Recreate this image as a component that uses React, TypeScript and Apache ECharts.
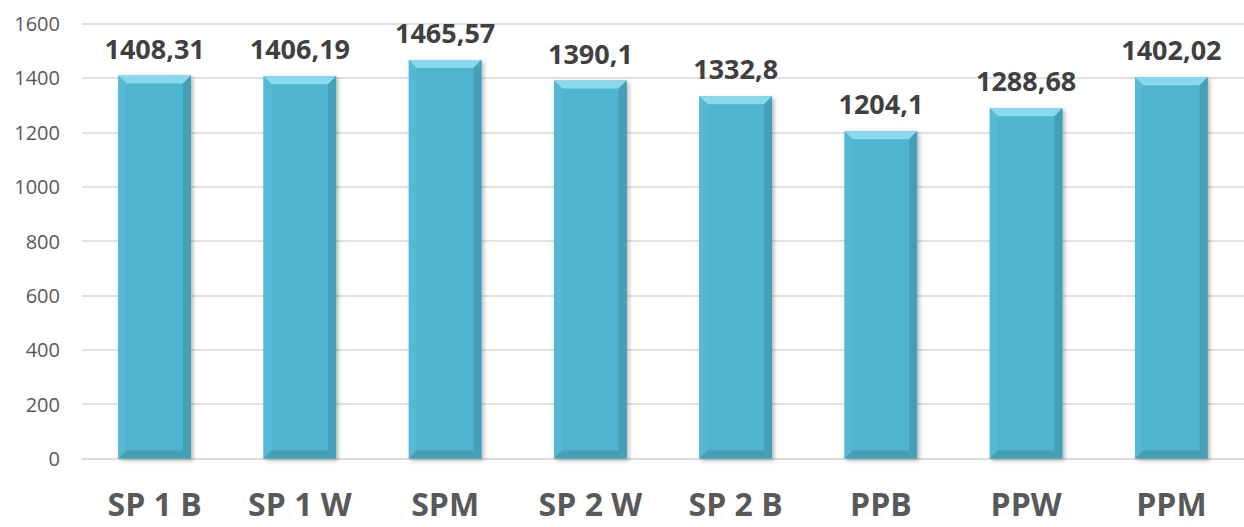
import React, { useEffect, useRef } from "react";
import * as echarts from "echarts";

const categories = ["SP 1 B", "SP 1 W", "SPM", "SP 2 W", "SP 2 B", "PPB", "PPW", "PPM"];
const values = [1408.31, 1406.19, 1465.57, 1390.1, 1332.8, 1204.1, 1288.68, 1402.02];
const labels = ["1408,31", "1406,19", "1465,57", "1390,1", "1332,8", "1204,1", "1288,68", "1402,02"];
const yTicks = [0, 200, 400, 600, 800, 1000, 1200, 1400, 1600];

const FONT = "'Open Sans', 'Noto Sans', sans-serif";

export default function App() {
  const ref = useRef<HTMLDivElement>(null);
  useEffect(() => {
    if (!ref.current) return;
    const chart = echarts.init(ref.current, undefined, { renderer: "svg" });
    const bevel = 8;
    chart.setOption({
      animation: false,
      grid: { left: 82, right: -10, top: 23.5, bottom: 68.5, containLabel: false },
      xAxis: {
        type: "category",
        data: categories,
        axisLine: { show: true, lineStyle: { color: "#d9d9d9", width: 1.5 } },
        axisTick: { show: false },
        axisLabel: {
          interval: 0,
          fontFamily: FONT,
          fontSize: 32,
          lineHeight: 32,
          fontWeight: "bold",
          color: "#595959",
          margin: 29,
        },
      },
      yAxis: {
        type: "value",
        min: yTicks[0],
        max: yTicks[yTicks.length - 1],
        interval: 200,
        axisLine: { show: false },
        axisTick: { show: false },
        splitLine: { lineStyle: { color: "#d9d9d9", width: 1.5 } },
        axisLabel: {
          fontFamily: FONT,
          fontSize: 20,
          color: "#595959",
          margin: 22,
          formatter: (v: number) => String(v),
        },
      },
      series: [
        {
          type: "bar",
          data: values,
          barWidth: "50%",
          itemStyle: {
            color: "#4fb4cf",
            shadowColor: "rgba(0,0,0,0.3)",
            shadowBlur: 4,
            shadowOffsetX: 2,
            shadowOffsetY: 2,
          },
          label: {
            show: true,
            position: "top",
            distance: 14,
            fontFamily: FONT,
            fontSize: 27,
            fontWeight: "bold",
            color: "#404040",
            formatter: (p: any) => labels[p.dataIndex],
          },
          z: 2,
        },
        {
          type: "custom",
          data: values.map((v, i) => [i, v]),
          z: 3,
          silent: true,
          renderItem: (params: any, api: any) => {
            const idx = api.value(0);
            const top = api.coord([idx, api.value(1)]);
            const bot = api.coord([idx, 0]);
            const bw = api.size([1, 0])[0] * 0.5;
            const x0 = top[0] - bw / 2;
            const x1 = top[0] + bw / 2;
            const y0 = top[1];
            const y1 = bot[1];
            const b = bevel;
            return {
              type: "group",
              children: [
                {
                  type: "polygon",
                  shape: { points: [[x0, y0], [x1, y0], [x1 - b, y0 + b], [x0 + b, y0 + b]] },
                  style: { fill: "#8ad8ec" },
                },
                {
                  type: "polygon",
                  shape: { points: [[x0, y0], [x0 + b, y0 + b], [x0 + b, y1 - b], [x0, y1]] },
                  style: { fill: "#56b9d3" },
                },
                {
                  type: "polygon",
                  shape: { points: [[x1, y0], [x1, y1], [x1 - b, y1 - b], [x1 - b, y0 + b]] },
                  style: { fill: "#449fb7" },
                },
                {
                  type: "polygon",
                  shape: { points: [[x0, y1], [x0 + b, y1 - b], [x1 - b, y1 - b], [x1, y1]] },
                  style: { fill: "#469fb5" },
                },
              ],
            };
          },
        },
      ],
    });
    return () => chart.dispose();
  }, []);
  return (
    <div
      ref={ref}
      style={{ position: "fixed", left: 0, top: 0, width: 1244, height: 527, background: "#fff" }}
    />
  );
}
